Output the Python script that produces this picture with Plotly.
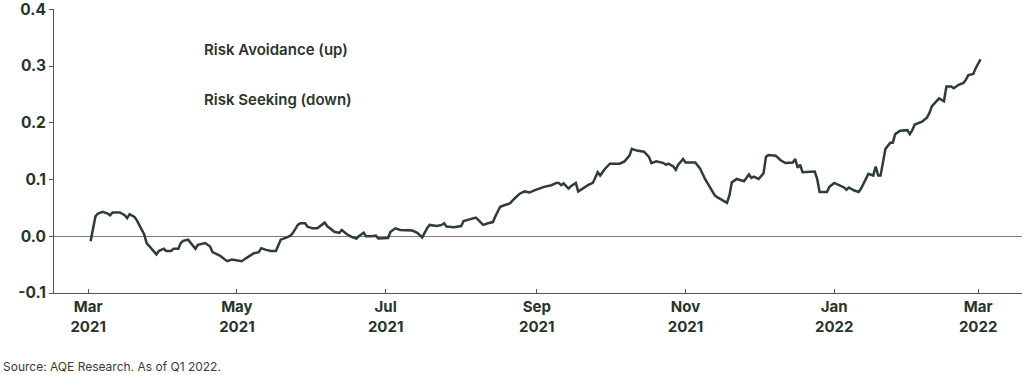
import plotly.graph_objects as go

dates = [
    "2021-03-02","2021-03-03","2021-03-04","2021-03-05","2021-03-07","2021-03-09","2021-03-10","2021-03-11",
    "2021-03-14","2021-03-16","2021-03-17","2021-03-18","2021-03-20","2021-03-21","2021-03-22","2021-03-24",
    "2021-03-25","2021-03-27","2021-03-29","2021-03-30","2021-04-01","2021-04-02","2021-04-04","2021-04-05",
    "2021-04-07","2021-04-08","2021-04-09","2021-04-11","2021-04-12","2021-04-14","2021-04-15","2021-04-18",
    "2021-04-20","2021-04-21","2021-04-24","2021-04-26","2021-04-27","2021-04-29","2021-05-01","2021-05-03",
    "2021-05-05","2021-05-08","2021-05-10","2021-05-11","2021-05-13","2021-05-15","2021-05-17","2021-05-19",
    "2021-05-21","2021-05-23","2021-05-24","2021-05-26","2021-05-27","2021-05-29","2021-05-30","2021-06-01",
    "2021-06-03","2021-06-04","2021-06-06","2021-06-07","2021-06-09","2021-06-10","2021-06-12","2021-06-13",
    "2021-06-15","2021-06-17","2021-06-19","2021-06-20","2021-06-22","2021-06-23","2021-06-25","2021-06-27",
    "2021-06-28","2021-06-30","2021-07-02","2021-07-03","2021-07-05","2021-07-07","2021-07-10","2021-07-12",
    "2021-07-14","2021-07-16","2021-07-18","2021-07-19","2021-07-22","2021-07-24","2021-07-25","2021-07-26",
    "2021-07-29","2021-08-01","2021-08-02","2021-08-05","2021-08-07","2021-08-08","2021-08-10","2021-08-12",
    "2021-08-14","2021-08-15","2021-08-17","2021-08-19","2021-08-21","2021-08-23","2021-08-25","2021-08-27",
    "2021-08-29","2021-08-31","2021-09-02","2021-09-04","2021-09-07","2021-09-09","2021-09-10","2021-09-11",
    "2021-09-12","2021-09-14","2021-09-15","2021-09-17","2021-09-18","2021-09-20","2021-09-22","2021-09-24",
    "2021-09-26","2021-09-27","2021-09-29","2021-10-01","2021-10-03","2021-10-04","2021-10-05","2021-10-07",
    "2021-10-09","2021-10-10","2021-10-12","2021-10-15","2021-10-17","2021-10-18","2021-10-20","2021-10-23",
    "2021-10-24","2021-10-25","2021-10-27","2021-10-28","2021-10-29","2021-10-31","2021-11-01","2021-11-05",
    "2021-11-07","2021-11-09","2021-11-11","2021-11-13","2021-11-14","2021-11-16","2021-11-18","2021-11-19",
    "2021-11-20","2021-11-22","2021-11-24","2021-11-25","2021-11-27","2021-11-28","2021-11-29","2021-12-01",
    "2021-12-03","2021-12-04","2021-12-05","2021-12-08","2021-12-10","2021-12-12","2021-12-15","2021-12-16",
    "2021-12-17","2021-12-18","2021-12-19","2021-12-21","2021-12-24","2021-12-25","2021-12-26","2021-12-29",
    "2021-12-30","2022-01-01","2022-01-03","2022-01-05","2022-01-06","2022-01-07","2022-01-09","2022-01-11",
    "2022-01-12","2022-01-15","2022-01-17","2022-01-18","2022-01-19","2022-01-20","2022-01-22","2022-01-23",
    "2022-01-24","2022-01-25","2022-01-26","2022-01-28","2022-01-30","2022-01-31","2022-02-01","2022-02-02",
    "2022-02-03","2022-02-05","2022-02-06","2022-02-08","2022-02-09","2022-02-10","2022-02-12","2022-02-13",
    "2022-02-15","2022-02-16","2022-02-18","2022-02-19","2022-02-21","2022-02-23","2022-02-24","2022-02-25",
    "2022-02-27","2022-02-28","2022-03-02",
]

values = [
    -0.009,0.011,0.035,0.040,0.043,0.040,0.037,0.042,
    0.042,0.037,0.032,0.039,0.034,0.028,0.020,0.003,
    -0.012,-0.022,-0.032,-0.026,-0.022,-0.026,-0.026,-0.022,
    -0.022,-0.012,-0.008,-0.006,-0.011,-0.022,-0.015,-0.012,
    -0.018,-0.028,-0.034,-0.040,-0.044,-0.041,-0.042,-0.044,
    -0.038,-0.030,-0.028,-0.021,-0.024,-0.026,-0.026,-0.006,
    -0.003,0.001,0.006,0.020,0.023,0.023,0.017,0.014,
    0.014,0.017,0.024,0.018,0.011,0.008,0.006,0.011,
    0.004,-0.001,-0.004,0.000,0.006,0.000,0.000,0.001,
    -0.004,-0.003,-0.003,0.008,0.014,0.011,0.010,0.010,
    0.006,-0.002,0.014,0.020,0.018,0.020,0.023,0.017,
    0.016,0.018,0.027,0.030,0.033,0.029,0.020,0.023,
    0.025,0.035,0.052,0.055,0.058,0.067,0.075,0.079,
    0.077,0.081,0.084,0.087,0.090,0.094,0.094,0.090,
    0.093,0.084,0.088,0.094,0.079,0.085,0.090,0.094,
    0.113,0.107,0.119,0.128,0.128,0.129,0.128,0.132,
    0.142,0.154,0.151,0.149,0.140,0.129,0.132,0.129,
    0.126,0.128,0.123,0.117,0.126,0.136,0.130,0.130,
    0.119,0.101,0.087,0.072,0.069,0.064,0.059,0.072,
    0.095,0.101,0.098,0.097,0.109,0.103,0.105,0.101,
    0.111,0.140,0.143,0.142,0.134,0.129,0.130,0.136,
    0.121,0.126,0.113,0.113,0.114,0.101,0.078,0.078,
    0.087,0.094,0.090,0.086,0.082,0.086,0.081,0.078,
    0.084,0.110,0.107,0.123,0.107,0.107,0.154,0.159,
    0.165,0.165,0.180,0.186,0.186,0.187,0.180,0.187,
    0.197,0.200,0.202,0.209,0.217,0.229,0.238,0.243,
    0.238,0.264,0.264,0.261,0.267,0.270,0.276,0.284,
    0.286,0.296,0.312,
]

x_tick_dates = ["2021-03-01","2021-05-01","2021-07-01","2021-09-01","2021-11-01","2022-01-01","2022-03-01"]
x_tick_labels = ["Mar<br>2021","May<br>2021","Jul<br>2021","Sep<br>2021","Nov<br>2021","Jan<br>2022","Mar<br>2022"]
y_tick_vals = [-0.1, 0.0, 0.1, 0.2, 0.3, 0.4]
y_tick_labels = ["-0.1", "0.0", "0.1", "0.2", "0.3", "0.4"]

INK = "#26352c"
LINE = "#2e3d35"
FONT = "Inter"

fig = go.Figure()
fig.add_trace(go.Scatter(x=dates, y=values, mode="lines",
                         line=dict(color=LINE, width=2.5), showlegend=False))

fig.update_layout(
    width=1024, height=375,
    margin=dict(l=54, r=2, t=9, b=82, autoexpand=False),
    paper_bgcolor="white", plot_bgcolor="white",
    font=dict(family=FONT, color=INK),
    xaxis=dict(
        range=["2021-02-15", "2022-03-19"],
        tickmode="array", tickvals=x_tick_dates, ticktext=x_tick_labels,
        tickfont=dict(family=FONT, size=15, color=INK, weight=700),
        ticks="inside", ticklen=4, tickcolor="#555555",
        showline=True, linecolor="#555555", linewidth=1,
        showgrid=False, zeroline=False, ticklabeloverflow="allow",
    ),
    yaxis=dict(
        range=[-0.1, 0.4005],
        tickmode="array", tickvals=y_tick_vals, ticktext=y_tick_labels,
        tickfont=dict(family=FONT, size=15.5, color=INK, weight=700),
        ticks="outside", ticklen=4, tickcolor="#555555",
        showline=True, linecolor="#555555", linewidth=1,
        showgrid=False, zeroline=True, zerolinecolor="#7d7d7d", zerolinewidth=1,
        ticklabeloverflow="allow",
    ),
    annotations=[
        dict(text="Risk Avoidance (up)", xref="paper", yref="paper",
             x=(202 - 54) / 966, y=(293 - 49) / 284, xanchor="left", yanchor="middle",
             showarrow=False, font=dict(family=FONT, size=15, color=INK, weight=600)),
        dict(text="Risk Seeking (down)", xref="paper", yref="paper",
             x=(202 - 54) / 966, y=(293 - 99) / 284, xanchor="left", yanchor="middle",
             showarrow=False, font=dict(family=FONT, size=15, color=INK, weight=600)),
        dict(text="Source: AQE Research. As of Q1 2022.", xref="paper", yref="paper",
             x=-53 / 968, y=-(366 - 293) / 284, xanchor="left", yanchor="middle",
             showarrow=False, font=dict(family=FONT, size=12, color="#3a3a3a")),
    ],
)

fig.write_html("out.html", config={"displayModeBar": False},
               post_script="document.body.style.margin='0';document.body.style.overflow='hidden';")
